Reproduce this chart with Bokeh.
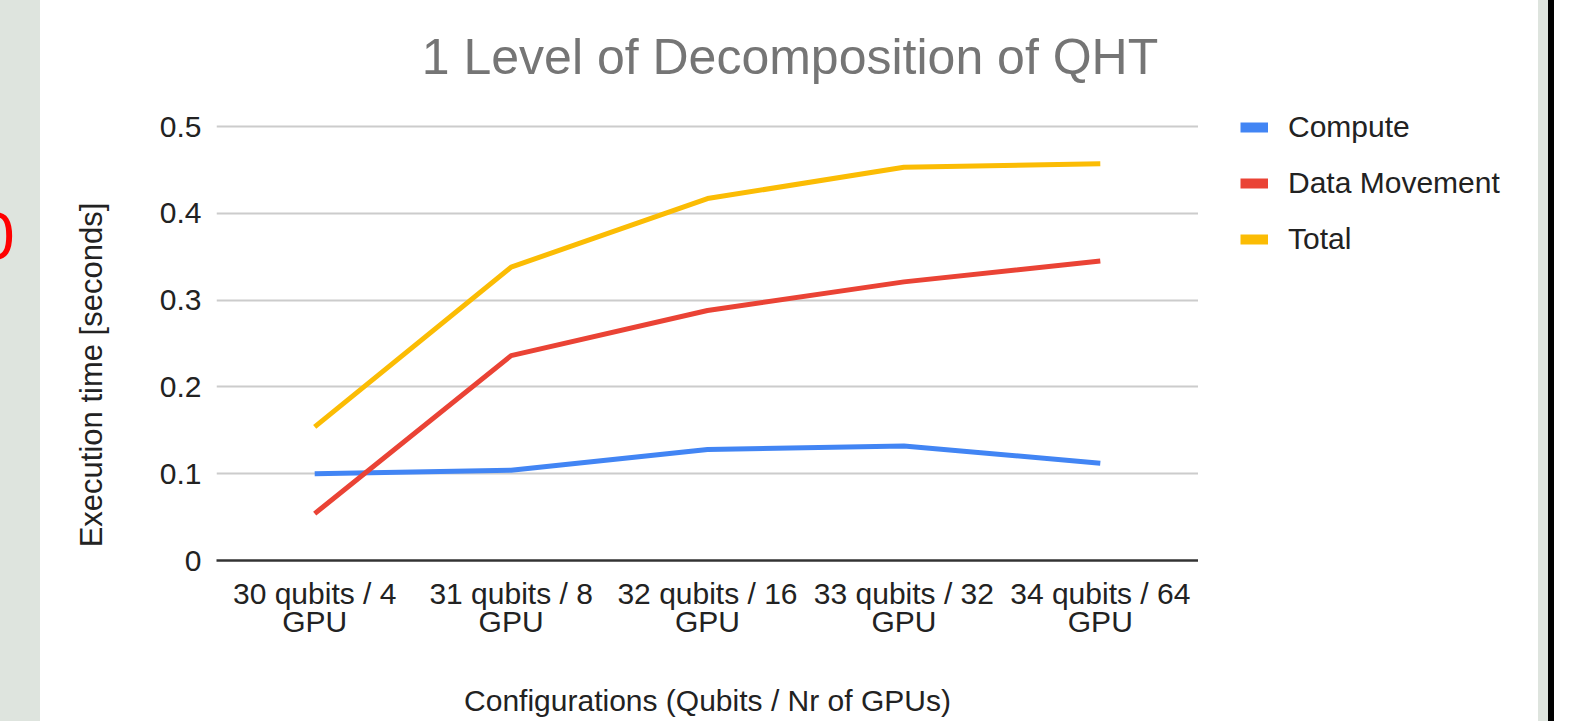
from math import pi

from bokeh.core.properties import value
from bokeh.embed import file_html
from bokeh.layouts import row
from bokeh.models import (Div, FactorRange, FixedTicker, Label, Legend, LegendItem,
                          NumeralTickFormatter, Range1d)
from bokeh.plotting import figure
from bokeh.resources import INLINE

# ---------------- data ----------------
categories = [
    "30 qubits / 4\nGPU",
    "31 qubits / 8\nGPU",
    "32 qubits / 16\nGPU",
    "33 qubits / 32\nGPU",
    "34 qubits / 64\nGPU",
]
compute = [0.100, 0.104, 0.128, 0.132, 0.112]
data_movement = [0.054, 0.236, 0.288, 0.321, 0.345]
total = [0.154, 0.338, 0.417, 0.453, 0.457]
series_names = ["Compute", "Data Movement", "Total"]
y_ticks = [0, 0.1, 0.2, 0.3, 0.4, 0.5]

title_text = "1 Level of Decomposition of QHT"
x_title = "Configurations (Qubits / Nr of GPUs)"
y_title = "Execution time [seconds]"
slide_fragment = "0"

# ---------------- style ----------------
FONT = "Liberation Sans"
COLORS = ["#4285f4", "#ea4335", "#fbbc04"]
STRIP = "#dee4de"
H = 721
BOTTOM = 161
NAN = float("nan")

shared_y = Range1d(0, 0.6452)


def bare(width, x_range):
    f = figure(width=width, height=H, x_range=x_range, y_range=shared_y,
               output_backend="svg", toolbar_location=None,
               min_border_left=0, min_border_right=0, min_border_top=0,
               min_border_bottom=BOTTOM,
               x_axis_location=None, y_axis_location=None,
               outline_line_color=None,
               background_fill_color="white", border_fill_color="white")
    f.grid.visible = False
    return f


# ---------------- main chart ----------------
p = figure(
    width=1058, height=H,
    x_range=FactorRange(factors=categories, range_padding=0),
    y_range=shared_y,
    output_backend="svg", toolbar_location=None,
    min_border_left=76, min_border_right=0,
    min_border_top=0, min_border_bottom=BOTTOM,
    outline_line_color=None,
    background_fill_color="white", border_fill_color="white",
)

for vals, col in zip([compute, data_movement, total], COLORS):
    p.line(x=categories, y=vals, line_color=col, line_width=5)

# y axis
p.yaxis.ticker = FixedTicker(ticks=y_ticks)
p.yaxis.formatter = NumeralTickFormatter(format="0.[0]")
p.yaxis.axis_line_color = None
p.yaxis.major_tick_line_color = None
p.yaxis.minor_tick_line_color = None
p.yaxis.major_tick_out = 0
p.yaxis.major_tick_in = 0
p.yaxis.major_label_standoff = 15
p.yaxis.major_label_text_font = FONT
p.yaxis.major_label_text_font_size = "30px"
p.yaxis.major_label_text_color = "#222222"

# x axis
p.xaxis.axis_line_color = "#333333"
p.xaxis.axis_line_width = 2.5
p.xaxis.major_tick_line_color = None
p.xaxis.minor_tick_line_color = None
p.xaxis.major_tick_out = 0
p.xaxis.major_tick_in = 0
p.xaxis.major_label_standoff = 16
p.xaxis.major_label_text_font = FONT
p.xaxis.major_label_text_font_size = "30px"
p.xaxis.major_label_text_color = "#222222"
p.xaxis.major_label_text_line_height = 0.87
p.xaxis.axis_label = x_title
p.xaxis.axis_label_standoff = 43
p.xaxis.axis_label_text_font = FONT
p.xaxis.axis_label_text_font_size = "30px"
p.xaxis.axis_label_text_font_style = "normal"
p.xaxis.axis_label_text_color = "#222222"

p.xgrid.grid_line_color = None
p.ygrid.grid_line_color = "#cccccc"
p.ygrid.grid_line_width = 2

# chart title (inside the frame, above the 0.5 gridline)
p.add_layout(Label(x=2.92, y=0.580, text=title_text, text_align="center",
                   text_baseline="middle", text_font=FONT, text_font_size="50px",
                   text_color="#757575"))

# ---------------- y-axis title column ----------------
yt = bare(100, Range1d(0, 100))
yt.text(x=[51], y=[0.2137], text=[y_title], angle=pi / 2,
        text_align="center", text_baseline="middle",
        text_font=value(FONT), text_font_size="31px", text_color="#222222")

# ---------------- legend column ----------------
lg = bare(340, Range1d(0, 340))
legend_items = []
for name, col in zip(series_names, COLORS):
    r = lg.line(x=[NAN], y=[NAN], line_color=col, line_width=10)
    legend_items.append(LegendItem(label=name, renderers=[r]))
legend = Legend(
    items=legend_items, location=(42, 301), orientation="vertical",
    padding=0, margin=0, spacing=16,
    glyph_width=28, glyph_height=40, label_height=40, label_standoff=20,
    label_text_font=FONT, label_text_font_size="30px", label_text_color="#222222",
    border_line_color=None, background_fill_alpha=0,
)
lg.add_layout(legend)

# ---------------- slide strips ----------------
left = Div(
    text=('<div style="margin-top:203px;margin-left:-22px;color:#ff0000;'
          "font-family:'Liberation Sans';font-size:66px;line-height:1;"
          f'white-space:nowrap">{slide_fragment}</div>'),
    width=40, height=H, margin=0,
    styles={"background-color": STRIP, "overflow": "hidden"},
)
right_edge = Div(
    text="", width=16, height=H, margin=0,
    styles={"background": f"linear-gradient(to right, {STRIP} 0px, {STRIP} 10px, "
                          "#000000 10px, #000000 16px)"},
)

layout = row(left, yt, p, lg, right_edge, spacing=0)

open("out.html", "w").write(file_html(layout, INLINE))
